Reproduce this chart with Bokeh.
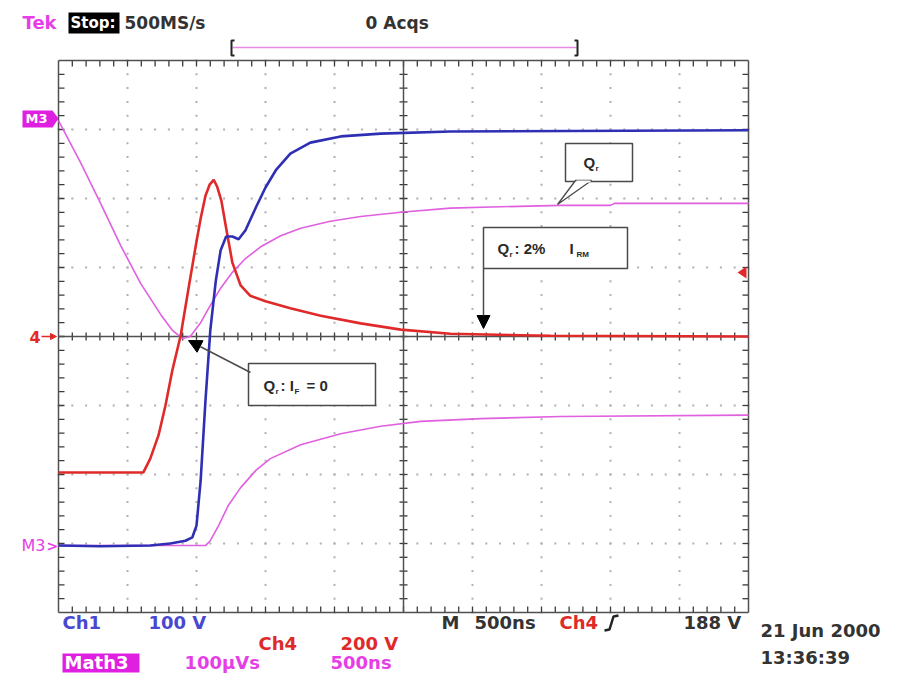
import numpy as np
from bokeh.plotting import figure
from bokeh.models import Range1d, Label, Arrow, NormalHead
from bokeh.embed import file_html
from bokeh.resources import INLINE

# ---- Data, in graticule divisions (x: 0..10 = 500 ns/div, y: -4..4) ----
ch1_x = [0, 0.6, 1.33, 1.62, 1.84, 1.94, 2.0, 2.06, 2.13, 2.2, 2.28, 2.35, 2.43, 2.52,
         2.61, 2.71, 2.86, 3.0, 3.15, 3.36, 3.65, 4.09, 4.67, 5.68, 10]
ch1_y = [-3.03, -3.04, -3.03, -3.0, -2.96, -2.91, -2.74, -2.09, -0.93, 0.09, 0.81, 1.25,
         1.45, 1.45, 1.41, 1.54, 1.87, 2.16, 2.41, 2.65, 2.81, 2.90, 2.94, 2.97, 2.99]

ch4_x = [0, 1.23, 1.33, 1.45, 1.55, 1.65, 1.77, 1.88, 1.99, 2.06, 2.13, 2.19, 2.25, 2.30,
         2.36, 2.43, 2.52, 2.64, 2.78, 3.0, 3.36, 3.80, 4.38, 4.96, 5.68, 7.13, 10]
ch4_y = [-1.97, -1.97, -1.77, -1.43, -1.00, -0.49, 0.01, 0.67, 1.32, 1.71, 2.04, 2.20,
         2.27, 2.17, 1.97, 1.57, 1.07, 0.74, 0.59, 0.51, 0.41, 0.30, 0.19, 0.10, 0.04,
         0.01, 0.0]

math3_x = [0, 0.32, 0.61, 0.90, 1.19, 1.48, 1.65, 1.80, 1.91, 2.06, 2.20, 2.35, 2.52,
           2.71, 2.93, 3.22, 3.51, 3.94, 4.38, 4.96, 5.68, 6.41, 7.28, 8.0, 8.06, 10]
math3_y = [3.13, 2.52, 1.93, 1.32, 0.77, 0.32, 0.09, -0.03, 0.0, 0.20, 0.45, 0.70, 0.93,
           1.13, 1.30, 1.46, 1.57, 1.67, 1.74, 1.80, 1.86, 1.88, 1.90, 1.90, 1.93, 1.93]

ref_x = [0, 2.13, 2.20, 2.32, 2.46, 2.64, 2.86, 3.07, 3.51, 4.09, 4.67, 5.25, 6.12, 7.28, 10]
ref_y = [-3.03, -3.03, -2.96, -2.74, -2.45, -2.19, -1.94, -1.77, -1.57, -1.41, -1.30,
         -1.23, -1.19, -1.16, -1.14]

# ---- page geometry ----
W, H = 899, 674
X0, Y0, DIV = 58, 336, 69.0


def X(px):
    return (px - X0) / DIV


def Y(py):
    return (Y0 - py) / DIV


BLUE = "#2f2fb4"
RED = "#e02a2a"
MAG = "#e060e0"
MAGT = "#e63ee6"
FRAME = "#505050"
FONT = "DejaVu Sans"

p = figure(width=W, height=H, x_range=Range1d(X(0), X(W)), y_range=Range1d(Y(H), Y(0)),
           x_axis_type=None, y_axis_type=None, toolbar_location=None,
           output_backend="svg", min_border=0, outline_line_color=None,
           background_fill_color="white", border_fill_color="white")

# ---- graticule dots ----
gx, gy = [], []
for i in range(1, 10):
    if i == 5:
        continue
    for j in range(41):
        gx.append(float(i)); gy.append(-4.0 + 0.2 * j)
for j in range(-3, 4):
    if j == 0:
        continue
    for i in range(51):
        gx.append(0.2 * i); gy.append(float(j))
p.scatter(gx, gy, marker="square", size=2, color="#b0b0b0", line_color=None)

# ---- ticks on frame and center cross ----
t = 6.0 / DIV
tc = 4.0 / DIV
x0s, y0s, x1s, y1s = [], [], [], []
for i in range(1, 50):
    v = 0.2 * i
    x0s += [v, v, v]; x1s += [v, v, v]
    y0s += [4.0, -4.0, -tc]; y1s += [4.0 - t, -4.0 + t, tc]
for j in range(1, 40):
    v = -4.0 + 0.2 * j
    y0s += [v, v, v]; y1s += [v, v, v]
    x0s += [0.0, 10.0, 5.0 - tc]; x1s += [t, 10.0 - t, 5.0 + tc]
p.segment(x0=x0s, y0=y0s, x1=x1s, y1=y1s, line_color="#3a3a3a", line_width=1.3)

p.segment(x0=[0.0, 10.0, 0.0, 0.0, 0.0, 5.0], y0=[-4.0, -4.0, -4.0, 4.0, 0.0, -4.0],
          x1=[0.0, 10.0, 10.0, 10.0, 10.0, 5.0], y1=[4.0, 4.0, -4.0, 4.0, 0.0, 4.0],
          line_color=FRAME, line_width=1.5)

# ---- traces ----
p.line(ref_x, ref_y, line_color=MAG, line_width=1.6)
p.line(math3_x, math3_y, line_color=MAG, line_width=1.6)
p.line(ch4_x, ch4_y, line_color=RED, line_width=2.6)
p.line(ch1_x, ch1_y, line_color=BLUE, line_width=2.6)

# ---- callouts ----
BOXC = "#4a4a4a"
p.quad(left=[X(565), X(483), X(248)], right=[X(632), X(627), X(375)],
       top=[Y(143), Y(227), Y(363)], bottom=[Y(181), Y(268), Y(405)],
       fill_color="white", line_color=BOXC, line_width=1.5)
# Qr tail
p.patch([X(575), X(557), X(591)], [Y(180), Y(204), Y(180)], fill_color="white",
        line_color=BOXC, line_width=1.3)
p.line([X(576), X(590)], [Y(181), Y(181)], line_color="white", line_width=2)

p.add_layout(Arrow(x_start=X(483), y_start=Y(268), x_end=X(483), y_end=Y(328),
                   line_color=BOXC, line_width=1.5,
                   end=NormalHead(size=13, fill_color="black", line_color="black")))
p.add_layout(Arrow(x_start=X(250), y_start=Y(372), x_end=X(188), y_end=Y(340),
                   line_color=BOXC, line_width=1.5,
                   end=NormalHead(size=13, fill_color="black", line_color="black")))


def lab(px, py, text, size=14, color="#2a2a2a", style="bold", font="Liberation Sans",
        align="left", baseline="middle"):
    p.add_layout(Label(x=X(px), y=Y(py), text=text, text_font=font,
                       text_font_size=f"{size}px", text_font_style=style,
                       text_color=color, text_align=align, text_baseline=baseline))


# "Qr"
lab(583, 162, "Q", 15)
lab(595, 168, "r", 8)
# "Qr: 2% IRM"
lab(497, 248, "Q", 15)
lab(509, 254, "r", 8)
lab(514, 248, ":  2%", 15)
lab(569, 248, "I", 15)
lab(576, 254, "RM", 8)
# "Qr: IF = 0"
lab(263, 385, "Q", 15)
lab(275, 391, "r", 8)
lab(280, 385, ":  I", 15)
lab(294, 391, "F", 8)
lab(306, 385, "=  0", 15)

# ---- scope chrome: top ----
TF = 18
lab(22, 22, "Tek", TF, MAGT, font=FONT)
p.quad(left=[X(68)], right=[X(119)], top=[Y(12)], bottom=[Y(33)], fill_color="black",
       line_color=None)
lab(70, 22, "Stop:", 15, "white", font=FONT)
lab(124, 22, "500MS/s", TF - 1, "#333333", font=FONT)
lab(365, 22, "0 Acqs", TF - 1, "#333333", font=FONT)
p.line([X(232), X(576)], [Y(47), Y(47)], line_color="#e58be5", line_width=1.5)
p.multi_line([[X(234), X(231), X(231), X(234)], [X(574), X(577), X(577), X(574)]],
             [[Y(40), Y(40), Y(55), Y(55)], [Y(40), Y(40), Y(55), Y(55)]],
             line_color="#222222", line_width=2)

# ---- left / right markers ----
p.patch([X(22), X(52), X(58), X(52), X(22)], [Y(110), Y(110), Y(118), Y(127), Y(127)],
        fill_color="#e020e0", line_color=None)
lab(25, 118, "M3", 13, "white", font=FONT)
lab(29, 336, "4", 16, RED, font=FONT)
p.add_layout(Arrow(x_start=X(41), y_start=0, x_end=X(56), y_end=0, line_color=RED,
                   line_width=1.5, end=NormalHead(size=6, fill_color=RED, line_color=RED)))
lab(21, 545, "M3", 16, MAGT, font=FONT, style="normal")
lab(46, 545, ">", 14, MAGT, font=FONT)
p.patch([X(737), X(746), X(746)], [Y(272), Y(266), Y(278)], fill_color=RED,
        line_color=None)

# ---- scope chrome: bottom ----
lab(62, 622, "Ch1", TF, "#4848d0", font=FONT)
lab(148, 622, "100 V", TF, "#4848d0", font=FONT)
lab(441, 622, "M", TF, "#333333", font=FONT)
lab(474, 622, "500ns", TF, "#333333", font=FONT)
lab(559, 622, "Ch4", TF, RED, font=FONT)
p.line([X(604), X(609), X(613), X(618)], [Y(630), Y(629), Y(616), Y(615)],
       line_color="#222222", line_width=2.5)
lab(683, 622, "188 V", TF, "#333333", font=FONT)
lab(760, 630, "21 Jun 2000", TF, "#333333", font=FONT)
lab(258, 643, "Ch4", TF, RED, font=FONT)
lab(340, 643, "200 V", TF, RED, font=FONT)
p.quad(left=[X(62)], right=[X(139)], top=[Y(653)], bottom=[Y(672)], fill_color="#e020e0",
       line_color=None)
lab(64, 662, "Math3", TF, "white", font=FONT)
lab(184, 662, "100µVs", TF, MAGT, font=FONT)
lab(330, 662, "500ns", TF, MAGT, font=FONT)
lab(760, 657, "13:36:39", TF, "#333333", font=FONT)

open("out.html", "w").write(file_html(p, INLINE))
